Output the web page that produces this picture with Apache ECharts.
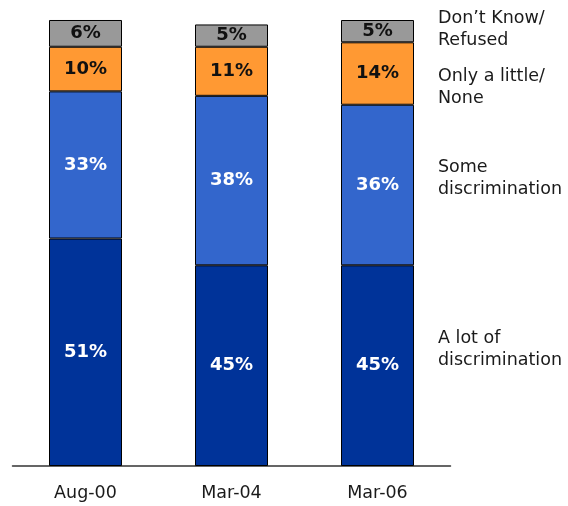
<!DOCTYPE html>
<html><head><meta charset="utf-8">
<script src="https://cdn.jsdelivr.net/npm/echarts@6/dist/echarts.min.js"></script>
<style>html,body{margin:0;padding:0;background:#fff}#c{width:568px;height:506px}</style>
</head><body><div id="c"></div>
<script>
var categories = ['Aug-00', 'Mar-04', 'Mar-06'];
var aLot = [51, 45, 45];
var some = [33, 38, 36];
var onlyLittle = [10, 11, 14];
var dontKnow = [6, 5, 5];
var seriesNames = ['A lot of\ndiscrimination', 'Some\ndiscrimination', 'Only a little/\nNone', 'Don\u2019t Know/\nRefused'];
var legendY = [349, 178, 87, 29];

var font = 'Verdana, "DejaVu Sans", sans-serif';
function mk(name, data, color, labelColor) {
  return {
    name: name, type: 'bar', stack: 'a', data: data, barWidth: 73,
    itemStyle: { color: color, borderColor: '#000', borderWidth: 1 },
    label: { show: true, position: 'inside', formatter: '{c}%', color: labelColor,
      fontFamily: font, fontWeight: 'bold', fontSize: 18 },
    emphasis: { disabled: true }
  };
}
var chart = echarts.init(document.getElementById('c'));
var graphics = seriesNames.map(function (n, i) {
  return { type: 'text', left: 438, top: legendY[i] - 22,
    style: { text: n, fill: '#1a1a1a', font: '17.5px ' + font, lineHeight: 22 } };
});
chart.setOption({
  animation: false,
  grid: { left: 12.5, right: 117.5, top: 20, bottom: 40 },
  xAxis: { type: 'category', data: categories,
    axisLine: { lineStyle: { color: '#333', width: 1.5 } },
    axisTick: { show: false },
    axisLabel: { color: '#1a1a1a', fontFamily: font, fontSize: 17.5, margin: 18 } },
  yAxis: { type: 'value', min: 0, max: 100, show: false, splitLine: { show: false } },
  graphic: graphics,
  series: [
    mk(seriesNames[0], aLot, '#003399', '#fff'),
    mk(seriesNames[1], some, '#3366CC', '#fff'),
    mk(seriesNames[2], onlyLittle, '#FF9933', '#111'),
    mk(seriesNames[3], dontKnow, '#999999', '#111')
  ]
});
</script></body></html>
